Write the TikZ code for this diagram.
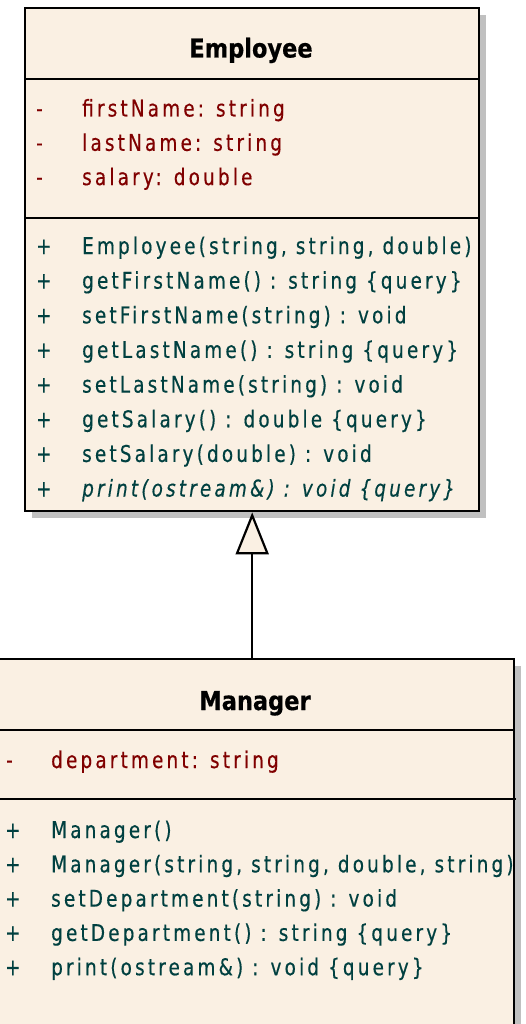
\documentclass[tikz,border=0pt]{standalone}
\usepackage{fontspec}
\usetikzlibrary{arrows.meta,shadows}
\newfontfamily\umlfont[FakeStretch=0.8,LetterSpace=13.8,FakeBold=0.4]{DejaVu Sans}
\newfontfamily\titlefont[FakeStretch=0.865,FakeBold=0.6]{DejaVu Sans}
\definecolor{umlfill}{RGB}{250,240,227}
\definecolor{umlshadow}{RGB}{192,192,192}
\definecolor{attrcol}{RGB}{128,0,0}
\definecolor{opcol}{RGB}{0,64,64}
\tikzset{
  classbox/.style={draw=black, line width=2.4pt, fill=umlfill, anchor=north west, inner sep=0pt,
    drop shadow={shadow xshift=7pt, shadow yshift=-7pt, fill=umlshadow, opacity=1}},
  sepline/.style={line width=2.4pt},
  classtitle/.style={font=\titlefont\bfseries\fontsize{26}{26}\selectfont, anchor=base, inner sep=0pt},
  attr/.style={font=\umlfont\fontsize{23}{23}\selectfont, text=attrcol, anchor=base west, inner sep=0pt},
  oper/.style={font=\umlfont\fontsize{23}{23}\selectfont, text=opcol, anchor=base west, inner sep=0pt},
  inherit/.style={line width=2.2pt, -{Triangle[length=42pt,width=33pt,fill=umlfill]}}
}
\begin{document}
\begin{tikzpicture}[x=1pt,y=-1pt]
\useasboundingbox (0,0) rectangle (526,1024);
\fill[white] (0,0) rectangle (526,1024);
\clip (0,0) rectangle (526,1024);

% Employee class
\node[classbox, minimum width=454pt, minimum height=503pt] (emp) at (24,7) {};
\draw[sepline] (24,79) -- (479,79);
\draw[sepline] (24,218) -- (480,218);
\node[classtitle] (empname) at (251,57.5) {Employee};
\node[attr] (ea1v) at (36,116.5) {-};
\node[attr] (ea1) at (82,116.5) {firstName: string};
\node[attr] (ea2v) at (36,150.8) {-};
\node[attr] (ea2) at (82,150.8) {lastName: string};
\node[attr] (ea3v) at (36,185.1) {-};
\node[attr] (ea3) at (82,185.1) {salary: double};
\foreach \i/\t in {0/{Employee(string, string, double)},
                   1/{getFirstName() : string \{query\}},
                   2/{setFirstName(string) : void},
                   3/{getLastName() : string \{query\}},
                   4/{setLastName(string) : void},
                   5/{getSalary() : double \{query\}},
                   6/{setSalary(double) : void}}{
  \node[oper] (eo\i v) at (36,254+34.65*\i) {+};
  \node[oper] (eo\i) at (82,254+34.65*\i) {\t};
}
\node[oper] (eo7v) at (36,496.5) {+};
\node[oper, font=\umlfont\itshape\fontsize{23}{23}\selectfont] (eo7) at (82,496.5) {print(ostream\&) : void \{query\}};

% Manager class
\node[classbox, minimum width=520pt, minimum height=420pt] (mgr) at (-7,658) {};
\draw[sepline] (-7,730) -- (514,730);
\draw[sepline] (-7,799) -- (516,799);
\node[classtitle] (mgrname) at (255,710) {Manager};
\node[attr] (ma1v) at (6,768) {-};
\node[attr] (ma1) at (51,768) {department: string};
\foreach \i/\t in {0/{Manager()},
                   1/{Manager(string, string, double, string)},
                   2/{setDepartment(string) : void},
                   3/{getDepartment() : string \{query\}},
                   4/{print(ostream\&) : void \{query\}}}{
  \node[oper] (mo\i v) at (5,838+34.3*\i) {+};
  \node[oper] (mo\i) at (51,838+34.3*\i) {\t};
}

% Generalization
\draw[inherit] (emp.south |- mgr.north) -- (emp.south);
\end{tikzpicture}
\end{document}
